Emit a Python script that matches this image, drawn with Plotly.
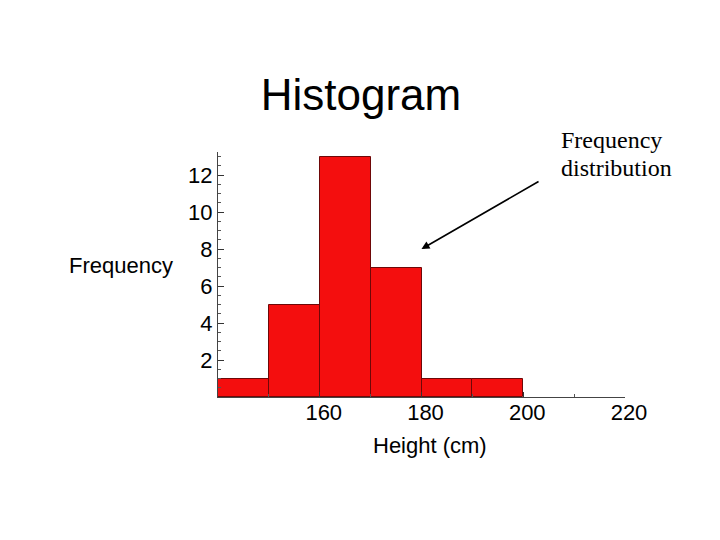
import plotly.graph_objects as go

# Données de l'histogramme (classes de 10 cm)
bin_centers = [145, 155, 165, 175, 185, 195]
counts = [1, 5, 13, 7, 1, 1]
bin_width = 10

x_ticks = [160, 180, 200, 220]
y_ticks = [2, 4, 6, 8, 10, 12]

fig = go.Figure()

fig.add_trace(go.Bar(
    x=bin_centers,
    y=counts,
    width=bin_width,
    marker=dict(color="#f40e0e", line=dict(color="#6e0808", width=1)),
    showlegend=False,
))

# la page ajoute 8 px de marge autour du graphique
fig.update_layout(
    width=720,
    height=540,
    margin=dict(l=210, r=103, t=144, b=151),
    paper_bgcolor="white",
    plot_bgcolor="white",
    font=dict(family="Liberation Sans, Arial, sans-serif", size=22, color="black"),
    bargap=0,
    title=dict(
        text="Histogram",
        font=dict(family="Liberation Sans, Arial, sans-serif", size=44, color="black"),
        x=353 / 720, xanchor="center", xref="container",
        y=1 - 87 / 540, yanchor="middle", yref="container",
    ),
)

fig.update_xaxes(
    range=[140, 220],
    tickvals=x_ticks,
    ticks="inside",
    ticklen=5,
    tickcolor="#333333",
    ticklabelshift=4,
    ticklabelstandoff=-4,
    showline=True,
    linecolor="#444444",
    linewidth=1,
    showgrid=False,
    zeroline=False,
    minor=dict(dtick=10, ticks="inside", ticklen=3, tickcolor="#555555"),
)

fig.update_yaxes(
    range=[0, 13.25],
    tickvals=y_ticks,
    ticks="inside",
    ticklen=6,
    tickcolor="#333333",
    showline=True,
    linecolor="#444444",
    linewidth=1,
    showgrid=False,
    zeroline=False,
    minor=dict(dtick=0.5, ticks="inside", ticklen=3, tickcolor="#555555"),
)

# Titres des axes (horizontal pour la fréquence)
fig.add_annotation(
    text="Frequency", xref="paper", yref="paper",
    x=(175 - 218) / 407, y=(397 - 265) / 245,
    xanchor="right", yanchor="middle", showarrow=False,
)
fig.add_annotation(
    text="Height (cm)", xref="paper", yref="paper",
    x=(430 - 218) / 407, y=(397 - 445) / 245,
    xanchor="center", yanchor="middle", showarrow=False,
)

# Flèche et étiquette
fig.add_annotation(
    x=180, y=8, xref="x", yref="y",
    ax=203.3, ay=11.7, axref="x", ayref="y",
    text="", showarrow=True,
    arrowhead=2, arrowsize=1, arrowwidth=1.6, arrowcolor="black",
)
label_font = dict(family="Liberation Serif, Times New Roman, serif", size=24, color="black")
fig.add_annotation(
    text="Frequency", xref="paper", yref="paper",
    x=(559 - 218) / 407, y=(397 - 140) / 245,
    xanchor="left", yanchor="middle", showarrow=False, font=label_font,
)
fig.add_annotation(
    text="distribution", xref="paper", yref="paper",
    x=(559 - 218) / 407, y=(397 - 168) / 245,
    xanchor="left", yanchor="middle", showarrow=False, font=label_font,
)

fig.write_html("out.html")
